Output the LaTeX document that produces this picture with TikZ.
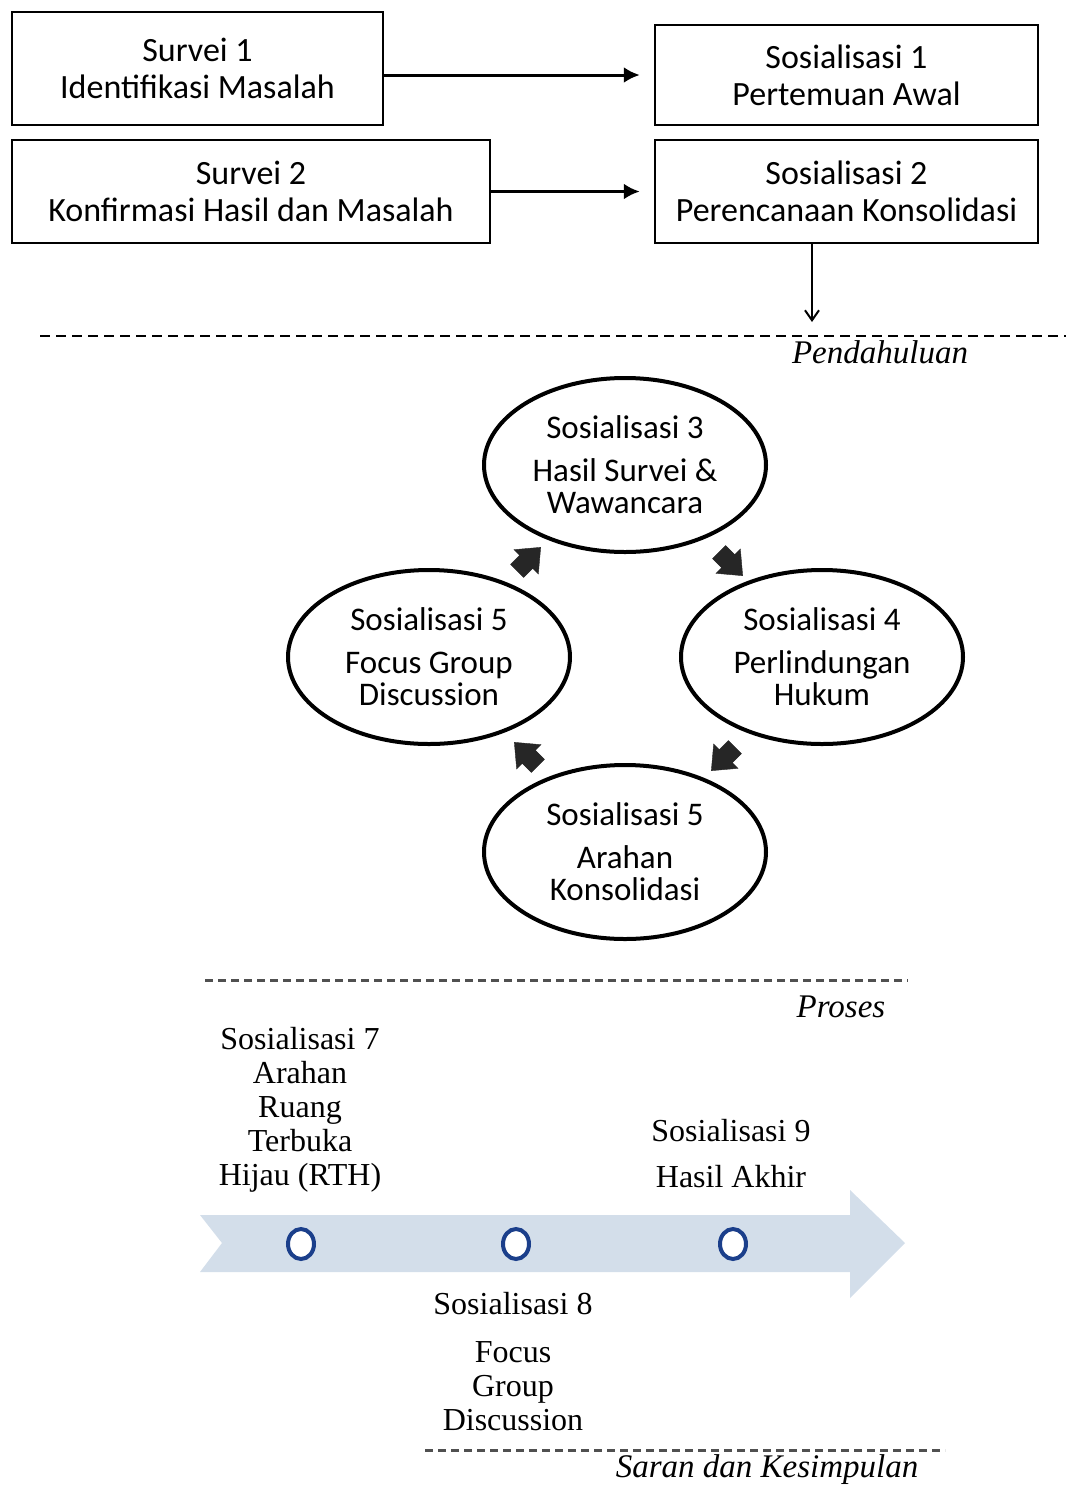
\documentclass[tikz,border=0pt]{standalone}
\usepackage{fontspec}
\setmainfont{Liberation Serif}
\newfontfamily\carl{Carlito}
\usetikzlibrary{shapes.geometric,shapes.arrows,arrows.meta,calc}
\definecolor{tlblue}{HTML}{D3DEEA}
\definecolor{dotblue}{HTML}{1B3F8B}
\definecolor{dashgray}{HTML}{505050}
\begin{document}
\begin{tikzpicture}[x=1pt,y=-1pt,
  box/.style={draw,line width=2.5pt,rectangle,inner sep=0pt,align=center,font=\carl\fontsize{34}{37}\selectfont},
  ell/.style={draw,line width=4pt,ellipse,minimum width=282pt,minimum height=174pt,inner sep=0pt,align=center,font=\carl\fontsize{33}{32}\selectfont},
  conn/.style={line width=3pt,-{Latex[length=16pt,width=16pt]},shorten >=14pt},
  cyc/.style={single arrow,fill=black!85,draw=black!85,inner xsep=11pt,inner ysep=9pt,single arrow head extend=8pt,single arrow tip angle=80},
  sect/.style={font=\itshape\fontsize{33}{36}\selectfont},
  tl/.style={align=center,font=\fontsize{32}{34}\selectfont,text=black},
  dot/.style={ellipse,draw=dotblue,line width=4pt,fill=white,minimum width=26pt,minimum height=30pt,inner sep=0pt},
  dash1/.style={line width=2pt,dash pattern=on 10pt off 6pt},
  dash2/.style={line width=3pt,dashgray,dash pattern=on 8pt off 5pt}
]
\useasboundingbox (0,0) rectangle (1066,1486);
% top boxes
\node[box,minimum width=371pt,minimum height=113pt] (sv1) at (197.5,68.5) {Survei 1\\Identifikasi Masalah};
\node[box,minimum width=383pt,minimum height=100pt] (so1) at (846.5,75) {Sosialisasi 1\\Pertemuan Awal};
\node[box,minimum width=478pt,minimum height=103pt] (sv2) at (251,191.5) {Survei 2\\Konfirmasi Hasil dan Masalah};
\node[box,minimum width=383pt,minimum height=103pt] (so2) at (846.5,191.5) {Sosialisasi 2\\Perencanaan Konsolidasi};
\draw[conn] (sv1.east |- so1.west) -- (so1.west);
\draw[conn] (sv2.east) -- (so2.west);
\coordinate (d1) at (812,322);
\draw[line width=2pt,-{Straight Barb[length=10pt,width=14pt]}] (so2.south -| d1) -- (d1);
% Pendahuluan
\draw[dash1] (40,336) -- (1066,336);
\node[sect] (pend) at (880,352) {Pendahuluan};
% cycle
\node[ell] (e3) at (625,465) {Sosialisasi 3\\[11pt]Hasil Survei \&\\Wawancara};
\node[ell] (e5l) at (429,657) {Sosialisasi 5\\[11pt]Focus Group\\Discussion};
\node[ell] (e4) at (822,657) {Sosialisasi 4\\[11pt]Perlindungan\\Hukum};
\node[ell] (e5b) at (625,852) {Sosialisasi 5\\[11pt]Arahan\\Konsolidasi};
\node[cyc,rotate=45] (a1) at (525,563) {};
\node[cyc,rotate=-45] (a2) at (727,560) {};
\node[cyc,rotate=-135] (a3) at (727,755) {};
\node[cyc,rotate=135] (a4) at (530,758) {};
% Proses
\draw[dash2] (205,980) -- (908,980);
\node[sect] (pros) at (841,1007) {Proses};
% timeline
\fill[tlblue] (200,1215) -- (850,1215) -- (850,1190) -- (905,1243) -- (850,1298) -- (850,1272) -- (200,1272) -- (222,1243) -- cycle;
\node[dot] (c1) at (301,1244) {};
\node[dot] (c2) at (516,1244) {};
\node[dot] (c3) at (733,1244) {};
\node[tl] (t7) at (300,1110) {Sosialisasi 7\\Arahan\\Ruang\\Terbuka\\Hijau (RTH)};
\node[tl] (t9) at (731,1154) {Sosialisasi 9\\[12pt]Hasil Akhir};
\node[tl] (t8) at (513,1362) {Sosialisasi 8\\[14pt]Focus\\Group\\Discussion};
% Saran
\draw[dash2] (425,1450) -- (945,1450);
\node[sect] (saran) at (767,1470) {Saran dan Kesimpulan};
\end{tikzpicture}
\end{document}
